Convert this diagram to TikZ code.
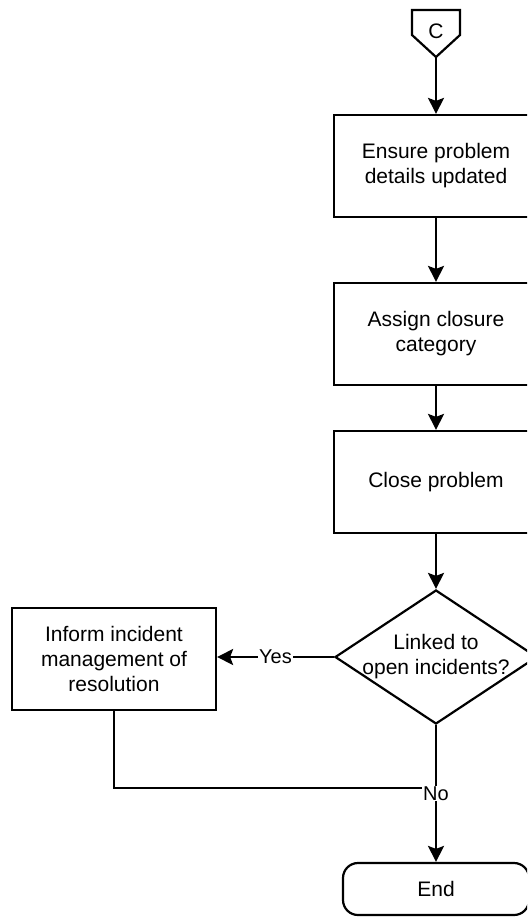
\documentclass[tikz,border=0pt]{standalone}
\usepackage{fontspec}
\setmainfont{Liberation Sans}
\usetikzlibrary{shapes.geometric,arrows.meta}

\tikzset{
	flowtext/.style = {font=\fontsize{21}{25}\selectfont, align=center},
	procbox/.style  = {draw, flowtext, line width=2.2pt, minimum width=204pt, minimum height=102pt, inner sep=0pt},
	decbox/.style   = {draw, diamond, line width=2.2pt, minimum width=202pt, minimum height=134pt, inner sep=0pt},
	termbox/.style  = {draw, flowtext, line width=2.2pt, rounded corners=15pt, minimum width=186pt, minimum height=52pt, inner sep=0pt},
	flowline/.style = {line width=2.2pt},
	flowarrow/.style = {line width=2.2pt, -{Stealth[length=16pt, width=16pt, inset=3pt]}},
	flowlabel/.style = {fill=white, inner sep=1pt, font=\fontsize{20}{24}\selectfont}
}

\begin{document}
\begin{tikzpicture}[x=1pt, y=-1pt]
	\useasboundingbox (0,0) rectangle (527,917);
	\clip (0,0) rectangle (527,917);
	
	% off-page connector
	\draw[flowline, line join=miter] (412,10) -- (460,10) -- (460,35) -- (436,57) -- (412,35) -- cycle;
	\node[flowtext] (conn) at (436,31) {C};
	\coordinate (conntip) at (436,57);
	
	\node[procbox] (ensure) at (436,166) {Ensure problem\\details updated};
	\node[procbox] (assign) at (436,334) {Assign closure\\category};
	\node[procbox] (close)  at (436,482) {Close problem};
	\node[decbox]  (linked) at (436,657) {};
	\node[flowtext] (linkedtext) at (linked) {Linked to\\open incidents?};
	\node[procbox] (inform) at (114,659) {Inform incident\\management of\\resolution};
	\node[termbox] (finish) at (436,889) {End};
	
	\draw[flowarrow] (conntip) -- (ensure);
	\draw[flowarrow] (ensure) -- (assign);
	\draw[flowarrow] (assign) -- (close);
	\draw[flowarrow] (close) -- (linked);
	
	\draw[flowarrow] (linked.west) -- node[flowlabel] (yes) {Yes} (inform.east |- linked.west);
	
	\coordinate (join) at (436,788);
	\draw[flowline] (inform.south) |- (join);
	\draw[flowarrow] (linked.south) -- node[flowlabel, pos=0.5] (no) {No} (finish.north);
\end{tikzpicture}
\end{document}
